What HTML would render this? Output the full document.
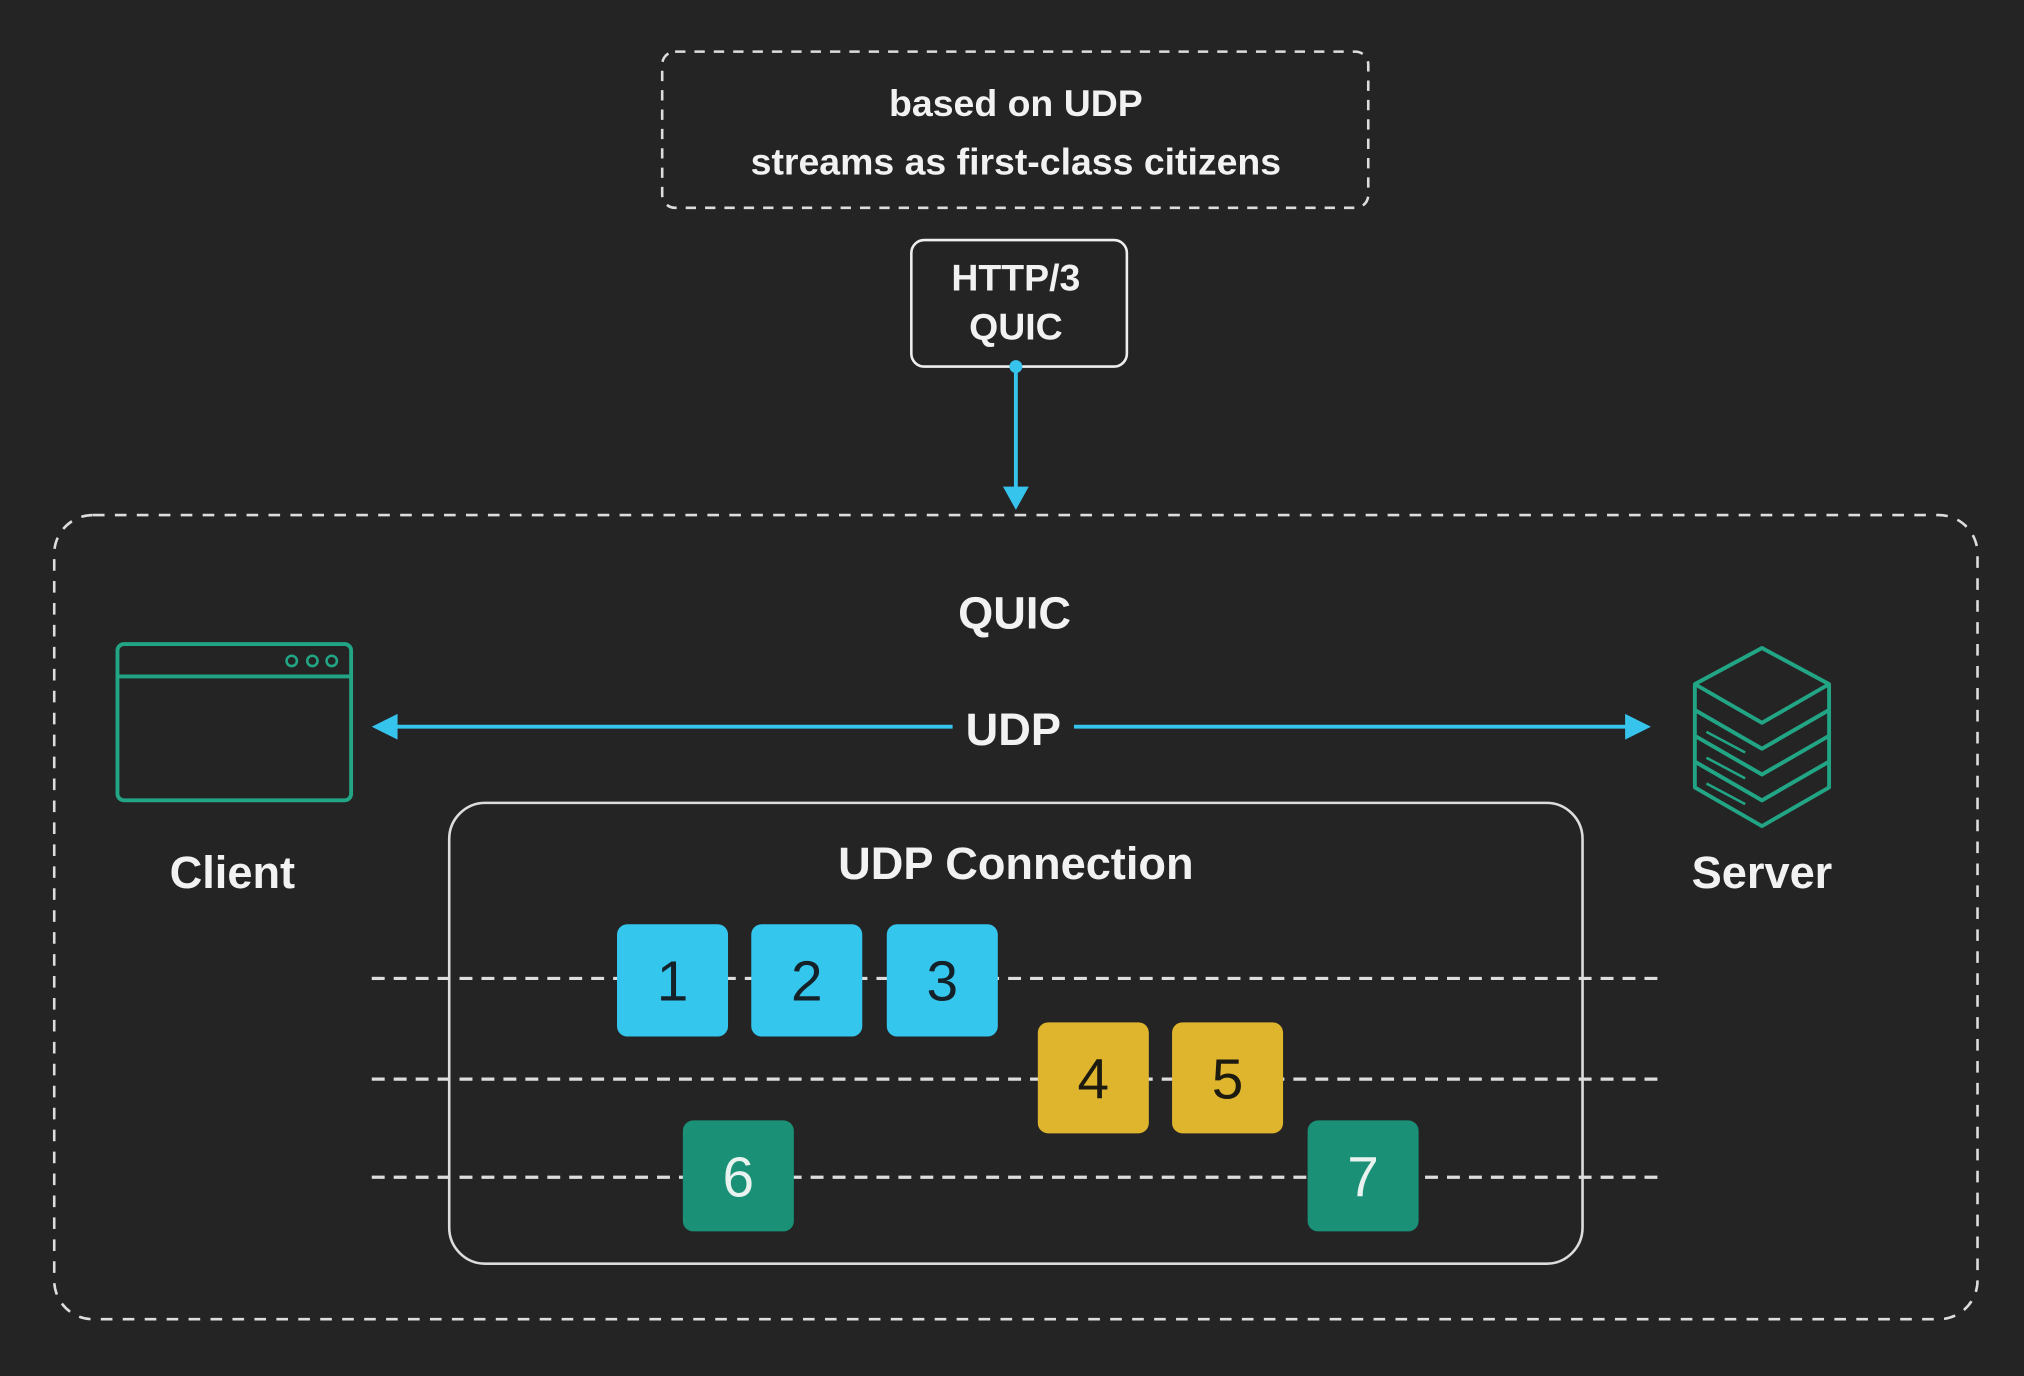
<!DOCTYPE html>
<html><head><meta charset="utf-8"><style>
html,body{margin:0;padding:0;background:#242424;}
svg{display:block}
text{font-family:"Liberation Sans",sans-serif;fill:#f2f2f2;text-anchor:middle;font-weight:bold}
.n{font-weight:normal}
</style></head><body>
<svg width="2024" height="1376" viewBox="0 0 1568 1066" xmlns="http://www.w3.org/2000/svg">
<rect width="1568" height="1066" fill="#242424"/>
<rect x="513" y="40" width="547" height="121" rx="10" fill="none" stroke="#ddd" stroke-width="2" stroke-dasharray="8 7"/>
<text x="787" y="90" font-size="29">based on UDP</text>
<text x="787" y="135" font-size="29">streams as first-class citizens</text>
<rect x="706" y="186" width="167" height="98" rx="10" fill="none" stroke="#eee" stroke-width="2"/>
<text x="787" y="225" font-size="29">HTTP/3</text>
<text x="787" y="263" font-size="29">QUIC</text>
<circle cx="787" cy="284" r="5" fill="#36c3ec"/>
<line x1="787" y1="284" x2="787" y2="380" stroke="#36c3ec" stroke-width="3"/>
<polygon points="777,377 797,377 787,395" fill="#36c3ec"/>
<rect x="42" y="399" width="1490" height="623" rx="30" fill="none" stroke="#ddd" stroke-width="2" stroke-dasharray="9 8"/>
<text x="786" y="487" font-size="35">QUIC</text>
<rect x="91" y="499" width="181" height="121" rx="5" fill="none" stroke="#22a585" stroke-width="3"/>
<line x1="91" y1="524" x2="272" y2="524" stroke="#22a585" stroke-width="3"/>
<circle cx="226" cy="512" r="4" fill="none" stroke="#22a585" stroke-width="2"/>
<circle cx="242" cy="512" r="4" fill="none" stroke="#22a585" stroke-width="2"/>
<circle cx="257" cy="512" r="4" fill="none" stroke="#22a585" stroke-width="2"/>
<text x="180" y="688" font-size="35">Client</text>
<line x1="300" y1="563" x2="738" y2="563" stroke="#36c3ec" stroke-width="3"/>
<line x1="832" y1="563" x2="1266" y2="563" stroke="#36c3ec" stroke-width="3"/>
<polygon points="288,563 308,553 308,573" fill="#36c3ec"/>
<polygon points="1279,563 1259,553 1259,573" fill="#36c3ec"/>
<text x="785" y="577" font-size="35">UDP</text>
<g fill="#242424" stroke="#22a585" stroke-width="3" stroke-linejoin="round">
<path d="M1313,590 L1313,610 L1365,640 L1417,610 L1417,590 L1365,620 Z"/>
<path d="M1313,570 L1313,590 L1365,620 L1417,590 L1417,570 L1365,600 Z"/>
<path d="M1313,550 L1313,570 L1365,600 L1417,570 L1417,550 L1365,580 Z"/>
<path d="M1313,530 L1365,502 L1417,530 L1417,550 L1365,580 L1313,550 Z"/>
<path d="M1313,530 L1365,560 L1417,530" fill="none"/>
<path d="M1322,567 l30,16 M1322,587 l30,16 M1322,607 l30,16" stroke-width="2"/>
</g>
<text x="1365" y="688" font-size="35">Server</text>
<rect x="348" y="622" width="878" height="357" rx="28" fill="none" stroke="#ddd" stroke-width="2"/>
<text x="787" y="681" font-size="35">UDP Connection</text>
<g stroke="#ddd" stroke-width="2.5" stroke-dasharray="10 7">
<line x1="288" y1="758" x2="1288" y2="758"/>
<line x1="288" y1="836" x2="1288" y2="836"/>
<line x1="288" y1="912" x2="1288" y2="912"/>
</g>
<g font-size="44">
<rect x="478" y="716" width="86" height="87" rx="8" fill="#35c6ee"/><text class="n" x="521" y="775" style="fill:#152128">1</text>
<rect x="582" y="716" width="86" height="87" rx="8" fill="#35c6ee"/><text class="n" x="625" y="775" style="fill:#152128">2</text>
<rect x="687" y="716" width="86" height="87" rx="8" fill="#35c6ee"/><text class="n" x="730" y="775" style="fill:#152128">3</text>
<rect x="804" y="792" width="86" height="86" rx="8" fill="#dfb52e"/><text class="n" x="847" y="851" style="fill:#1d1a10">4</text>
<rect x="908" y="792" width="86" height="86" rx="8" fill="#dfb52e"/><text class="n" x="951" y="851" style="fill:#1d1a10">5</text>
<rect x="529" y="868" width="86" height="86" rx="8" fill="#1a9077"/><text class="n" x="572" y="927" style="fill:#e8f2ee">6</text>
<rect x="1013" y="868" width="86" height="86" rx="8" fill="#1a9077"/><text class="n" x="1056" y="927" style="fill:#e8f2ee">7</text>
</g>
</svg>
</body></html>
